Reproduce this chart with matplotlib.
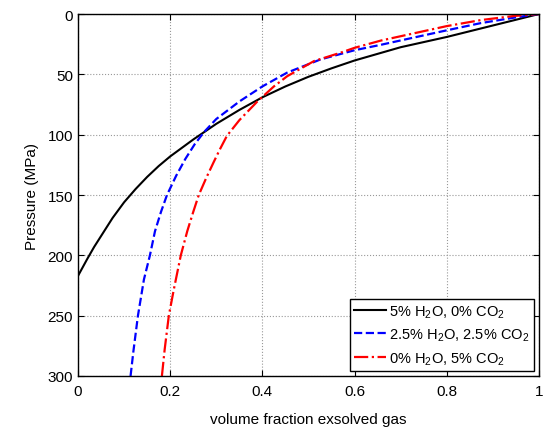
import matplotlib
matplotlib.use('Agg')
import matplotlib.pyplot as plt

plt.rcParams['font.family'] = ['Liberation Sans', 'DejaVu Sans']
plt.rcParams['mathtext.fontset'] = 'custom'
plt.rcParams['mathtext.rm'] = 'Liberation Sans'

# 5% H2O, 0% CO2
x_h2o = [0.0, 0.01, 0.02, 0.035, 0.05, 0.075, 0.1, 0.125, 0.15, 0.175, 0.2, 0.25, 0.3,
         0.35, 0.4, 0.45, 0.5, 0.55, 0.6, 0.65, 0.7, 0.8, 0.9, 1.0]
p_h2o = [217, 210, 203, 193, 184, 169, 156, 145, 135, 126, 118, 104, 91,
         79.5, 69, 60, 52, 45, 38.5, 33, 27.5, 19, 9.5, 0]

# 2.5% H2O, 2.5% CO2
x_mix = [0.114, 0.120, 0.130, 0.143, 0.156, 0.167, 0.18, 0.193, 0.213, 0.233, 0.253, 0.273,
         0.3, 0.35, 0.4, 0.454, 0.527, 0.6, 0.657, 0.8, 0.874, 0.946, 1.0]
p_mix = [300, 280, 250, 220, 200, 180, 164, 150, 134, 120, 108, 98,
         87, 72.5, 60, 48.5, 37.5, 30, 25.5, 13.5, 7.5, 3, 0]

# 0% H2O, 5% CO2
x_co2 = [0.182, 0.188, 0.197, 0.208, 0.223, 0.237, 0.25, 0.262, 0.278, 0.294, 0.308, 0.323,
         0.35, 0.389, 0.425, 0.454, 0.512, 0.57, 0.6, 0.657, 0.8, 0.874, 0.946, 1.0]
p_co2 = [300, 278, 250, 228, 200, 180, 164, 150, 136, 123, 112, 101,
         88, 72.5, 60, 51.5, 39, 32, 28, 22, 10, 5, 1.6, 0]

labels = ['5% H$_2$O, 0% CO$_2$', '2.5% H$_2$O, 2.5% CO$_2$', '0% H$_2$O, 5% CO$_2$']

fig = plt.figure(figsize=(5.46, 4.31), dpi=100)
ax = fig.add_axes([0.1429, 0.1253, 0.8441, 0.8398])

ax.plot(x_h2o, p_h2o, color='black', linestyle='-', linewidth=1.5, label=labels[0])
ax.plot(x_mix, p_mix, color='blue', linestyle='--', linewidth=1.6, label=labels[1])
ax.plot(x_co2, p_co2, color='red', linestyle='-.', linewidth=1.6, label=labels[2])

ax.set_xlim(0, 1)
ax.set_ylim(300, 0)
ax.set_xticks([0, 0.2, 0.4, 0.6, 0.8, 1])
ax.set_xticklabels(['0', '0.2', '0.4', '0.6', '0.8', '1'])
ax.set_yticks([0, 50, 100, 150, 200, 250, 300])
ax.tick_params(direction='in', top=True, right=True, labelsize=11, length=4, width=0.8)
ax.tick_params(axis='x', pad=6)
ax.grid(True, linestyle=':', color='#999999', linewidth=0.8)
for s in ax.spines.values():
    s.set_linewidth(1.0)

ax.set_xlabel('volume fraction exsolved gas', fontsize=11, labelpad=10)
ax.set_ylabel('Pressure (MPa)', fontsize=11, labelpad=6)

leg = ax.legend(loc='lower right', fontsize=10.5, fancybox=False, framealpha=1,
                edgecolor='black', handlelength=2.2, handletextpad=0.2,
                borderpad=0.3, labelspacing=0.45, borderaxespad=0.35)
leg.get_frame().set_linewidth(1.0)

fig.savefig('out.png', dpi=100)
